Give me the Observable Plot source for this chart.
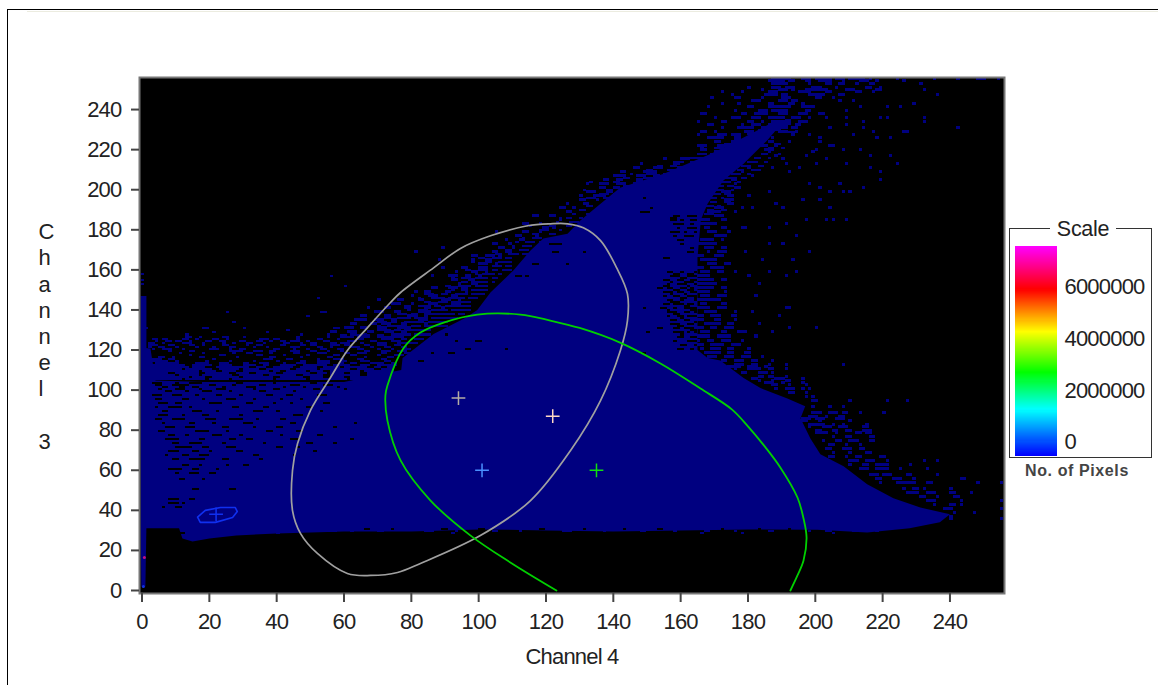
<!DOCTYPE html>
<html>
<head>
<meta charset="utf-8">
<script src="https://cdn.jsdelivr.net/npm/d3@7"></script>
<script src="https://cdn.jsdelivr.net/npm/@observablehq/plot@0.6"></script>
<style>
html,body{margin:0;padding:0;background:#fff;width:1158px;height:685px;overflow:hidden;position:relative;font-family:"Liberation Sans",Arial,sans-serif}
svg{display:block;position:absolute;overflow:visible;background:transparent}
svg text{fill:#222;letter-spacing:-0.8px}
#rule{position:absolute;left:7px;top:9px;right:-5px;bottom:-5px;border-left:1.5px solid #000;border-top:1.5px solid #000;box-sizing:border-box}
#rule2{position:absolute;left:27px;top:11px;right:0;height:1px;background:#ecece0}
#box{position:absolute;left:1009px;top:228px;width:143px;height:230px;border:1.5px solid #333;box-sizing:border-box}
#scale{position:absolute;left:1050px;top:217px;width:66px;height:24px;background:#fff;text-align:center;font-size:21.5px;letter-spacing:-0.3px;line-height:24px;color:#222}
#pix{position:absolute;left:1015px;top:461px;width:124px;text-align:center;font-size:16px;letter-spacing:0.6px;line-height:20px;font-weight:bold;color:#444}
</style>
</head>
<body>
<div id="rule"></div><div id="rule2"></div>
<div id="box"></div><div id="scale">Scale</div><div id="pix">No. of Pixels</div>
<script>
// axis ticks
const xTicks = [0,20,40,60,80,100,120,140,160,180,200,220,240];
const yTicks = [0,20,40,60,80,100,120,140,160,180,200,220,240];
const legendTicks = [0,2000000,4000000,6000000];
const legendStopValues = [-553000,1226000,2660000,4240000,5870000,7530000];
const legendStopColors = ["#0000ff","#00ffff","#00ff00","#ffff00","#ff0000","#ff00ff"];

// solid part of the 2-D histogram: outline in (Channel 4, Channel 3)
const bodyOutline = [
 [1,31],[11,31],[12,26],[15,24.5],[20,26],[28,27.5],[40,28.5],[60,29.5],[80,29.5],[100,30.5],[120,30],[140,29.5],[160,30],[180,30.5],[200.6,30.3],[215.4,29],[228,31],[237,34],[240,38],
 [231.2,41.4],[223.2,46],[215.4,53],[208.4,62],[201.5,68],[198.5,76],[195.6,86],[197,92],[191.7,95.8],[183.7,101],[178.7,106],[171.8,114.8],[168,116],[165,120],[165,166],[166,185],[168,193],[172.7,204.6],[178.7,213],[185.7,224.6],[190,233],[186.7,233],[178.7,226],[169,218],[155,208],[142,201],[136.2,193],[130.2,184.6],[126.4,178],[119.2,175.6],[115.4,169.7],[110.3,159.7],[103.5,148.7],[99.6,140],[96,136],[86.6,128],[77.4,116],[77,110],[60,104],[18,104],[4,104.8],[2.5,120.8],[1,121]
];
const columnOutline = [[-0.4,147],[1.3,147],[1.3,32],[1,2],[-0.2,2],[-0.4,30]];

// navy speckle runs: [channel 3, channel 4 start, run, start, run, ...]
const navyRows = [
 [157,-0.2,1],[154,-0.2,1],[152,-0.2,1],[156,56,1],[151,60,1],[145,52,1],[138,25,1,53,2],[136,49,1],[133,27,1],[130,1,1,18,2,30,1,57,2],[129,43,1],[128,21,1,37,1],
 [127,13,1,47,1,55,1,62,2,66,1,74,2],
 [126,13,2,17,1,24,2,30,1,46,1,55,1,61,2,66,1,72,3],
 [125,3,2,6,2,12,2,16,1,21,2,25,1,35,3,39,2,46,1,52,2,58,1,64,2,71,4],
 [124,4,1,7,2,10,2,14,1,19,2,23,2,29,2,34,2,38,1,41,2,44,3,49,1,54,2,61,3,68,2,74,3],
 [123,2,2,6,1,12,3,18,1,24,1,27,1,31,2,36,1,42,2,47,1,50,2,56,2,59,3,65,1,70,3,76,2],
 [122,2,3,8,2,14,2,18,1,24,2,31,1,34,2,41,2,47,2,50,2,56,3,60,2,66,2,70,3,75,2],
 [121,2,1,5,2,10,1,16,1,21,1,26,2,33,1,37,1,44,3,52,2,56,1,62,3,68,1,72,2,77,2],
 [120,3,1,6,3,12,1,20,3,26,1,29,2,39,2,45,1,49,1,53,2,58,2,64,2,70,1,74,1,78,2],
 [119,8,1,14,2,26,4,33,3,38,2,44,3,50,2,55,1,59,1,66,2,71,3,76,3],
 [118,11,1,18,1,27,1,31,2,38,1,45,2,52,3,60,2,64,3,71,2,78,2],
 [117,14,1,23,2,34,2,42,1,49,1,57,2,62,2,70,1,75,3],
 [116,5,2,9,1,17,2,28,1,38,2,47,1,55,2,66,1,73,2],
 [115,3,3,8,2,21,1,36,3,43,2,52,1,57,3,64,2,71,2],
 [114,3,5,10,1,19,1,26,1,33,1,40,1,47,2,52,4,59,2,65,3,72,2],
 [113,4,7,16,4,23,3,30,2,35,3,42,1,46,3,52,4,59,1,62,2,68,4,74,2],
 [112,3,10,15,6,23,4,30,4,36,2,41,5,48,7,57,5,65,3,70,6],
 [111,3,11,15,4,22,10,34,3,39,6,47,5,54,5,60,7,69,2,73,2],
 [110,3,9,13,8,23,6,30,5,37,7,46,6,53,9,64,5,71,4],
 [109,3,14,18,4,24,4,30,8,39,2,43,6,50,4,56,9,66,9],
 [108,3,5,10,7,19,7,28,4,34,6,42,8,52,3,56,4,62,3,67,8],
 [107,3,7,11,6,18,9,29,7,38,8,48,6,56,9,67,5],
 [106,3,11,15,4,21,8,30,9,41,7,50,4,56,4,62,12],
 [105,3,9,13,6,20,6,27,12,40,9,50,11,62,9],
 // fringe along the rising edge of the body
 [191,132,2,136,1],[189,130,2],[187,128,1,132,1],[185,124,1,126,2,130,1],[183,123,1,127,3],[181,115,1,121,2,126,2],[179,118,3,124,1],[177,116,2,121,2],[175,113,1,116,3],[173,111,1,114,3,118,1],[171,110,1,113,3],[169,108,2,112,3],[167,105,2,109,3,113,2],
 [165,100,2,104,3,108,2],[163,98,1,102,2,106,4],[161,104,3,108,2],[159,96,2,100,3,104,2,107,3],[157,99,1,101,4,106,1],[155,92,1,95,3,99,4,104,2],[153,95,2,98,5,104,1],[151,90,2,94,4,99,4],[149,92,1,95,2,98,5],[147,84,3,89,2,93,4,98,4],[145,82,1,86,4,91,5,97,3],[143,84,2,88,3,92,6],[141,78,2,82,4,87,2,90,8],[139,79,1,82,3,86,5,92,6],[137,76,3,80,2,84,9,94,2],[135,72,2,76,4,81,4,86,8],[133,70,3,74,2,78,6,85,6],[131,70,1,73,6,80,3,84,7],[129,70,4,75,2,78,8],[127,76,4,81,5],[125,77,2,81,3],[123,78,4],
 // fringe along the left of the upper band
 [195,132,3,137,2,141,1],[197,136,3,140,3],[199,131,1,138,2,142,4,147,1],[201,143,3,147,3,151,1],[203,133,1,140,2,147,4,152,2],[205,143,2,149,3,154,2,158,1],[207,145,1,150,3,155,3,160,1],[209,150,2,156,3,162,2],[211,153,2,157,2,162,3,166,1],[213,158,3,163,2,168,1],[215,163,4,170,1],[217,165,3,169,3],[220,166,1,170,3,174,1,178,1],[222,173,3,177,2],[224,176,3,181,1],[227,175,1,180,2,183,2],[229,183,2,187,3],[232,190,3],[234,191,2],
 // fringe along the right of the upper band
 [230,189,3],[228,186,2,192,2],[222,188,2],[220,186,2,190,1],[217,184,2,189,1],[215,182,2,186,1],[213,180,3,185,1],[211,178,3,183,2],[209,177,2,181,3],[207,175,3,180,1],[205,173,4,178,2],[203,172,3,177,1],[201,170,3,174,2],[199,169,4,175,1],[197,169,3,173,2],[195,168,3,172,1],[193,169,2,173,2],[191,167,3,171,1],[189,168,2,172,2],[187,167,3],
 // jagged lower edge
 [29,15,2,22,3,30,1,35,4,46,2,55,3,62,1,70,2,84,3,93,1,104,2,112,1,125,3,137,1,148,2,158,1,167,2,176,1,186,2,198,1,203,2,211,2,218,1],[28,40,1,92,1,166,1,178,1,205,1]
];
const navyRowsRight = [
 [254.5,187,6,196,3,200,5,206,3,210,5,216,1,224,1,235,1,242,1,248,3,254,1],
 [253.5,186,5,192,2,197,2,201,4,208,1,213,3,218,1,226,1],
 [252,187,5,198,1,203,2,207,2,212,1,216,2,231,1],
 [250,180,1,187,3,191,3,199,3,206,1,215,2,219,1],[249,184,1,189,3,193,1,197,7,209,3,218,2,232,1],
 [248,172,1,178,1,186,3,195,4,203,2,212,2,217,1],[246.5,175,1,185,4,190,2,198,5,207,2,236,1],
 [245,169,1,176,2,184,1,190,3,200,2,205,1],[243.5,181,3,189,3,193,2,207,1,211,1],
 [242,172,1,177,1,186,2,192,2,196,1,229,1],[240.5,168,1,180,2,186,7,196,4,213,1,221,1,225,1],
 [238.5,176,1,183,3,187,5,197,2,209,1],[237,166,2,178,2,182,4,189,3,195,3,201,2],
 [235,170,1,175,3,181,3,186,5,193,3,198,1,203,1,209,1,219,1,221,1,232,1],
 [233,165,1,172,2,180,2,184,1,187,6,195,3,214,1,232,1],
 [231.5,168,2,178,1,181,3,186,6,194,2,209,1],[230,172,1,177,5,184,8,193,2,204,1,214,1,242,1],
 [228,166,2,170,1,179,3,186,1,189,3,194,1,217,1,226,2],[226.5,165,1,171,3,175,3,181,2,184,3,193,1,198,1,211,1],
 [225,168,5,176,2,184,1,187,1,201,1,218,1,222,1],[223,170,2,175,4,182,1,186,2,192,1,201,1],
 [221,165,3,171,5,183,3,188,1,205,1,204,1],[219,166,2,174,2,185,3,200,1,208,1,213,1],[218,170,4,186,1,199,1],
 [216,170,2,188,1,197,1,216,1,222,1],[214.5,155,1,160,3,166,2,190,1,203,1],[212,148,1,158,2,163,4,170,2,191,1,200,1,209,1,224,1],
 [210,146,2,152,3,159,4,180,1,195,1,187,1,216,1],[208,142,2,149,4,157,3,164,3,178,1,192,1,219,1],
 [206,140,4,147,3,152,2,158,2,181,1,172,1],[204,137,2,141,2,147,2,153,3,175,2,219,1],
 [202,132,1,136,3,141,3,146,4,176,1,198,1,207,1],[200,136,2,140,2,145,3,150,1,176,2,201,1,214,1],
 [198,132,3,138,2,142,2,172,3,186,1,204,1,208,1,210,1],[196,130,1,134,3,137,1,174,2,180,1],
 [194,130,2,135,1,173,3,196,1,201,1],[192,126,1,131,2,174,2,188,1],[190,124,2,128,1,170,3,178,1,181,1,190,1,204,1],
 [188,126,2,168,4,176,1],[186,116,2,121,2,170,3],[184,124,1,166,3,172,2,197,1,205,1,203,1,209,1],[182,113,2,118,1,166,5,191,1],
 [180,119,2,122,1,167,2,172,2,178,2,186,1],[178,105,1,113,2,118,1,168,3,174,1],[176,111,2,117,1,170,4,194,1],
 [174,108,1,112,2,166,4,172,1],[172,104,2,109,1,165,6,186,1,190,1],[170,89,1,106,2,110,1,167,3,172,2],
 [168,81,1,104,2,108,2,168,1,171,3,179,1,198,1],[166,98,2,102,3,106,1,165,2,170,3],
 [164,88,1,98,1,102,2,166,5,184,1,193,1],[162,100,3,105,1,168,3,173,2],[160,89,1,95,2,100,3,165,2,169,4],
 [158,93,1,98,2,102,1,166,3,171,2,176,1,186,1,194,1],[156,86,1,91,3,96,2,100,1,165,4,180,1,191,1],[154,92,2,97,2,165,2,167,3,172,2],
 [152,94,1,98,2,165,3,168,3,183,1],[150,86,2,91,3,95,2,165,5,172,2],[148,81,1,84,2,90,2,96,1,165,2,167,2,173,1],
 [146,80,1,85,3,92,2,166,3,171,3,182,1],[144,70,1,76,2,82,2,89,3,94,1,165,3,168,4],[142,74,3,80,1,85,3,92,3,166,2,172,2],
 [140,67,1,72,2,78,2,84,2,89,1,165,4,171,3,191,2],[138,69,3,75,2,82,4,167,4,176,1,181,1],
 [136,65,2,72,2,79,3,84,1,165,2,169,3,175,2,189,1],[134,63,4,69,3,74,2,82,3,165,2,170,2,176,1],
 [132,62,2,68,2,71,3,77,2,84,1,167,5,174,2,183,1],[130,60,3,65,2,70,3,76,4,165,2,169,2,173,3,192,1,200,1],
 [128,56,2,61,3,67,2,72,3,77,2,166,3,172,2,177,3,187,1],[126,59,2,64,4,70,2,75,3,165,4,171,4,182,1],
 [124,165,1,168,2,172,3,178,1],[122,165,2,169,4,175,3],[120,166,1,169,3,174,2,180,1],[118,167,5,174,2,179,2],
 [116,168,3,173,3,178,3,184,1],[114,172,2,176,3,181,2,187,1],[112,176,3,181,2,186,1,191,1,208,1],[111,174,4,180,3,185,1],
 [110,176,1,180,4,186,2,191,1],[108,178,2,183,3,187,1],[106,183,2,186,2,191,1],[105,181,2,188,3,196,1],[104,183,1,187,1,191,2],[103,185,3,190,1,196,1],
 [102,187,2,192,1,197,1],[100,188,1,191,3,196,1,198,1],[98,192,2,197,1],[96,197,1,199,1],[94,199,2,210,1,221,1,227,1],
 [91,199,1,204,1,208,1],[88,199,3,204,3,208,2,213,1,220,1],[86,198,3,203,1,207,2],[85,196,3,200,3,206,3],[84,196,2,201,1,210,1],
 [82,198,5,205,1,208,1,215,1],[81,198,1,202,3,207,3,214,2],[79,200,2,205,2,209,2,214,3],[78,200,4,206,1,212,2,215,2],[76,205,1,209,2,216,2],
 [74,202,1,206,2,210,3,216,2],[72,204,2,209,1,213,1],[70,203,2,208,3,213,2],[68,205,1,210,1,215,2],[66,204,2,209,1,212,2,219,2],
 [64,210,3,215,3,221,1,232,1,236,1],[62,210,1,214,2,218,4,228,1],[60,213,3,218,4,225,1,233,1],[57,216,3,220,3,227,2,236,1],
 [55,218,2,223,3,229,1,243,2],[53,219,1,224,3,227,3,233,2,248,1,255,1],[50,226,1,229,2,232,1,240,1],[48,227,4,233,3,240,2,246,1],
 [46,231,2,236,1,241,2],[44,233,3,243,1,255,1],[42,235,1,240,2,243,1],[40,238,2,240,1,255,1],[38,241,1,247,1],[36,240,1],
 [35,240,1,255,1]
];
// black holes inside the body: same row layout
const holeRows = [
 [103,3,3,10,1,14,4,28,2,39,1,50,2],
 [102,4,2,9,5,20,2,27,1,35,2,44,3,54,3],
 [101,6,2,11,2,15,2,24,1,31,3,42,1,48,1,58,1],
 [100,5,1,10,3,17,1,22,3,33,1,39,2,51,2,60,1],
 [99,7,2,13,1,18,3,26,1,35,2,45,1],
 [97,3,3,9,3,16,1,22,2,29,1,37,2,43,2,52,3],
 [95,4,2,12,2,18,1,25,3,33,1,41,1,47,1],
 [93,5,3,10,2,20,4,31,2,39,1,44,1,54,2],
 [91,4,1,8,4,14,1,27,2,36,2,49,2],
 [89,6,2,15,3,22,1,33,3,40,1,53,1],
 [87,5,3,12,1,18,2,29,1,45,3],
 [85,4,2,9,4,19,3,26,4,34,1,41,2],
 [83,6,1,14,2,21,1,30,3,44,2,63,1],
 [81,7,3,13,3,24,2,33,1,40,2,57,1],
 [79,5,2,16,4,25,1,37,2,46,2],
 [77,8,2,13,1,21,3,29,1,41,1,52,2],
 [75,7,4,17,2,26,2,31,2,44,3,62,1],
 [73,9,2,14,4,24,1,36,1,49,2,57,1],
 [71,10,5,18,2,25,3,40,2,46,1],
 [69,8,3,15,2,20,1,28,2,51,1],
 [67,7,1,12,2,17,3,33,2,45,1],
 [65,9,2,14,5,24,2,35,1],
 [62,12,2,17,1,25,1,30,2],
 [60,8,4,15,2,22,1],[58,10,1,14,3,20,2],[55,11,2,18,1],[50,15,2,26,2],
 [45,8,3,14,2],[43,8,3,12,1],[41,6,1,10,2],
 [30,66,2,74,1,89,2,100,2,118,2,131,1,143,1,153,2,172,1,183,1,192,1],[28,11,2],[127,90,1],
 [120,96,2,108,1],[124,93,1,99,2],[118,86,1,91,2],[114,82,2],
 [172,121,4],[168,122,2,131,1],[162,116,2,126,1],[156,111,2,114,1],[152,104,1],
 [195,149,1],[190,151,1],[185,157,2],
 [186,158,2,162,3],[184,157,2,160,1,163,2],[182,158,3,163,1],[180,159,1,162,3],[178,157,3,161,1,164,1],[176,158,1,161,3],[174,159,2],[172,160,1],[170,163,1],[168,162,2],
 [158,156,2,160,1,164,1],[157,158,2,162,2],[156,157,3,162,3],[155,160,2],[154,155,2,159,2,163,2],[153,157,1,161,3],[152,156,1,159,3,164,1],[151,155,2,162,1],[150,156,2,160,2,163,1],[149,158,2,162,2],[148,155,3,159,2,163,2],[147,157,1,161,1],[146,155,1,158,2,162,3],[145,160,2,164,1],[144,156,2,160,1,164,1],[143,157,3],[142,155,2,158,3,162,2],[141,161,2],[140,154,2,158,1,161,4],[139,156,1,163,2],[138,156,3,161,2,164,1],[137,158,2],[136,156,1,159,2,162,3],[135,160,1],[134,157,2,161,2],[133,164,1],[132,157,3,162,2],[131,159,2],[130,158,2,161,3],[129,163,2],[128,158,3,162,1,164,1],[127,160,1],[126,159,2,163,2],[124,158,1,162,3],[122,160,2,164,1],[120,159,2,163,1],
 [150,153,2],[140,149,1],[128,150,1],[118,148,2],[188,148,3],[165,155,2],[130,153,2]
];
const grayEllipse = [
 [103.5,177],[114.5,182],[121.3,183],[126.4,183],[131.1,181],[136.2,174.6],[141,161],[144.2,148],[144.2,134.7],[142.1,119.8],[136.2,94.8],[127.3,69.9],[115.4,44.9],[100.5,27.4],[82.7,13.5],[75.9,9],[67.9,7.5],[61,8.5],[52.1,18.5],[47.1,28.4],[44.7,39.9],[44.7,59.9],[46.2,73.4],[50,89.8],[56,106.3],[61,119.8],[67,131.2],[73.8,143.7],[76.8,148.7],[86.6,161],[94.6,170.7]
];
const greenEllipse = [
 [123.1,0],[109.4,14],[97.6,27.4],[85.7,44.9],[76.8,64.9],[72.9,84.8],[72.3,97.3],[72.9,102.3],[77.7,121],[82.7,128.7],[89.6,133.7],[99.6,137.7],[112.4,137.7],[121.3,134.7],[130,131],[142,123.7],[154,113.3],[165.9,100.8],[175.2,90.4],[179.8,82.3],[185.2,71.4],[189.6,61.4],[194.7,46.4],[196.5,35.9],[197.4,26.4],[196.5,15],[194.7,7.5],[192.6,0]
];
const blueEllipse = [[16.5,36.6],[18.8,40],[23.3,41.4],[27.7,41.4],[28.3,39.4],[26.9,36.4],[21.8,34],[17.3,34]];
const centers = [
 {x:22,y:38,c:"#1030f0"},{x:94,y:96,c:"#b4aca4"},{x:122,y:87,c:"#ffd8c4"},{x:101,y:60,c:"#4a90ff"},{x:135,y:60,c:"#10e010"}
];
const strayPixels = [{x:0.7,y:16.5,c:"#c01080"},{x:0.4,y:2,c:"#1030e0"}];

const runs = (rows, h) => rows.flatMap(r => {
  const out = [];
  for (let i = 1; i < r.length; i += 2) out.push({x1:r[i], x2:r[i]+r[i+1], y1:r[0], y2:r[0]+h});
  return out;
});
const navy = "#000080";
const crisp = {shapeRendering:"crispEdges", inset:0};

const main = Plot.plot({
  width:1158, height:685,
  marginLeft:139, marginRight:154, marginTop:77, marginBottom:92,
  style:{background:"transparent", fontFamily:"'Liberation Sans',Arial,sans-serif", fontSize:"22px"},
  x:{domain:[-0.75,256.2]}, y:{domain:[-1.5,256]},
  marks:[
    Plot.frame({fill:"#000", stroke:null}),
    Plot.line(bodyOutline,{x:d=>d[0],y:d=>d[1],fill:navy,stroke:"none",curve:"linear"}),
    Plot.line(columnOutline,{x:d=>d[0],y:d=>d[1],fill:navy,stroke:"none",curve:"linear"}),
    Plot.rect(runs(holeRows,1),{x1:"x1",x2:"x2",y1:"y1",y2:"y2",fill:"#000",...crisp}),
    Plot.rect(runs(navyRows,1),{x1:"x1",x2:"x2",y1:"y1",y2:"y2",fill:navy,...crisp}),
    Plot.rect(runs(navyRowsRight,1.5),{x1:"x1",x2:"x2",y1:"y1",y2:"y2",fill:navy,...crisp}),
    Plot.dot(strayPixels,{x:"x",y:"y",r:1.5,fill:"c"}),
    Plot.line(grayEllipse,{x:d=>d[0],y:d=>d[1],stroke:"#a0a0a0",strokeWidth:1.7,curve:"catmull-rom-closed"}),
    Plot.line(greenEllipse,{x:d=>d[0],y:d=>d[1],stroke:"#00d000",strokeWidth:1.8,curve:"catmull-rom"}),
    Plot.line(blueEllipse,{x:d=>d[0],y:d=>d[1],stroke:"#1030f0",strokeWidth:1.6,curve:"linear-closed"}),
    Plot.dot(centers,{x:"x",y:"y",symbol:"plus",r:4.5,stroke:"c",strokeWidth:1.5}),
    Plot.frame({stroke:"#777",strokeWidth:2}),
    Plot.axisX({ticks:xTicks,tickFormat:d=>String(d),tickSize:9,tickPadding:11,strokeWidth:2,stroke:"#444",
      label:"Channel 4",labelAnchor:"center",labelArrow:"none",labelOffset:70,fontSize:22}),
    Plot.axisY({ticks:yTicks,tickFormat:d=>String(d),tickSize:8,tickPadding:10,strokeWidth:2,stroke:"#444",label:null,fontSize:22}),
    Plot.text(["C\nh\na\nn\nn\ne\nl\n\n3"],{frameAnchor:"left",dx:-101,lineHeight:1.19,fontSize:22})
  ]
});
main.style.left="0px"; main.style.top="0px";
document.body.appendChild(main);

const legendCells = d3.range(legendStopValues[0], legendStopValues[5], 40000);
const legend = Plot.plot({
  width:149, height:235,
  marginLeft:6, marginRight:101, marginTop:20, marginBottom:6,
  style:{background:"transparent", fontFamily:"'Liberation Sans',Arial,sans-serif", fontSize:"22px"},
  y:{domain:[legendStopValues[0],legendStopValues[5]],axis:null},
  color:{type:"linear",domain:legendStopValues,range:legendStopColors},
  marks:[
    Plot.rect(legendCells,{y1:d=>d,y2:d=>d+40000,fill:d=>d,...crisp}),
    Plot.text(legendTicks,{y:d=>d,text:d=>String(d),frameAnchor:"right",textAnchor:"start",dx:7,fontSize:22})
  ]
});
legend.style.left="1009px"; legend.style.top="227px";
document.body.appendChild(legend);
</script>
</body>
</html>
